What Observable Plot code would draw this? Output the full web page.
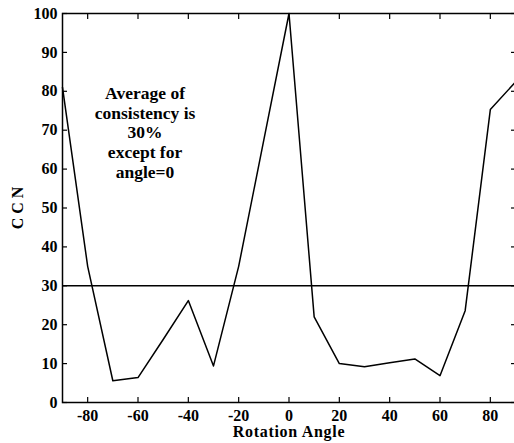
<!DOCTYPE html>
<html>
<head>
<meta charset="utf-8">
<script src="https://cdn.jsdelivr.net/npm/d3@7"></script>
<script src="https://cdn.jsdelivr.net/npm/@observablehq/plot@0.6"></script>
<style>
  html, body { margin: 0; padding: 0; background: #fff; }
  svg { display: block; }
</style>
</head>
<body>
<div id="chart"></div>
<script>
const angles = [-90, -80, -70, -60, -50, -40, -30, -20, -10, 0, 10, 20, 30, 40, 50, 60, 70, 80, 90];
const ccn    = [81, 35, 5.6, 6.4, 16.2, 26.2, 9.4, 35, 67.5, 100, 22, 10, 9.2, 10.2, 11.2, 6.9, 23.6, 75.3, 82.4];
const xTicks = [-80, -60, -40, -20, 0, 20, 40, 60, 80];
const yTicks = [0, 10, 20, 30, 40, 50, 60, 70, 80, 90, 100];
const averageLine = [30];
const noteLines = ["Average of", "consistency is", "30%", "except for", "angle=0"];
const notePos = [{x: -57.2, y: 69.5}];

const data = angles.map((a, i) => ({angle: a, ccn: ccn[i]}));
const font = "'Liberation Serif', 'Times New Roman', serif";

const chart = Plot.plot({
  width: 514,
  height: 443,
  marginLeft: 62,
  marginRight: -1,
  marginTop: 13,
  marginBottom: 41,
  style: {fontFamily: font, fontWeight: "bold", fontSize: "15px", color: "#000", background: "#fff"},
  x: {domain: [-90, 90], label: null},
  y: {domain: [0, 100], label: null},
  marks: [
    Plot.frame({stroke: "#000", strokeWidth: 1.5}),
    Plot.axisX({ticks: xTicks, tickSize: 0, tickPadding: 7, tickFormat: d => String(d), fontSize: 16, fontWeight: "bold"}),
    Plot.axisX({ticks: xTicks, anchor: "bottom", tickSize: -5, tickFormat: () => "", strokeWidth: 1.2}),
    Plot.axisX({ticks: xTicks, anchor: "top", tickSize: -5, tickFormat: () => "", strokeWidth: 1.2}),
    Plot.axisY({ticks: yTicks, tickSize: 0, tickPadding: 5, tickFormat: d => String(d), fontSize: 16, fontWeight: "bold"}),
    Plot.axisY({ticks: yTicks, anchor: "left", tickSize: -5, tickFormat: () => "", strokeWidth: 1.2}),
    Plot.axisY({ticks: yTicks, anchor: "right", tickSize: -5, tickFormat: () => "", strokeWidth: 1.2}),
    Plot.ruleY(averageLine, {stroke: "#000", strokeWidth: 1.5}),
    Plot.line(data, {x: "angle", y: "ccn", stroke: "#000", strokeWidth: 1.5}),
    Plot.text(notePos, {x: "x", y: "y", text: () => noteLines.join("\n"), lineHeight: 1.12, fontSize: 17.5, fontWeight: "bold", fill: "#000", textAnchor: "middle", lineAnchor: "middle"})
  ]
});

const svg = d3.select(chart);
svg.append("text")
  .attr("x", 289).attr("y", 437)
  .attr("text-anchor", "middle")
  .attr("font-size", 16)
  .style("letter-spacing", "0.7px")
  .text("Rotation Angle");
svg.append("text")
  .attr("transform", "translate(23,208) rotate(-90)")
  .attr("text-anchor", "middle")
  .attr("font-size", 16)
  .text("C C N");
svg.selectAll("text")
  .style("font-family", font)
  .style("font-weight", "bold");

document.getElementById("chart").appendChild(chart);
</script>
</body>
</html>
